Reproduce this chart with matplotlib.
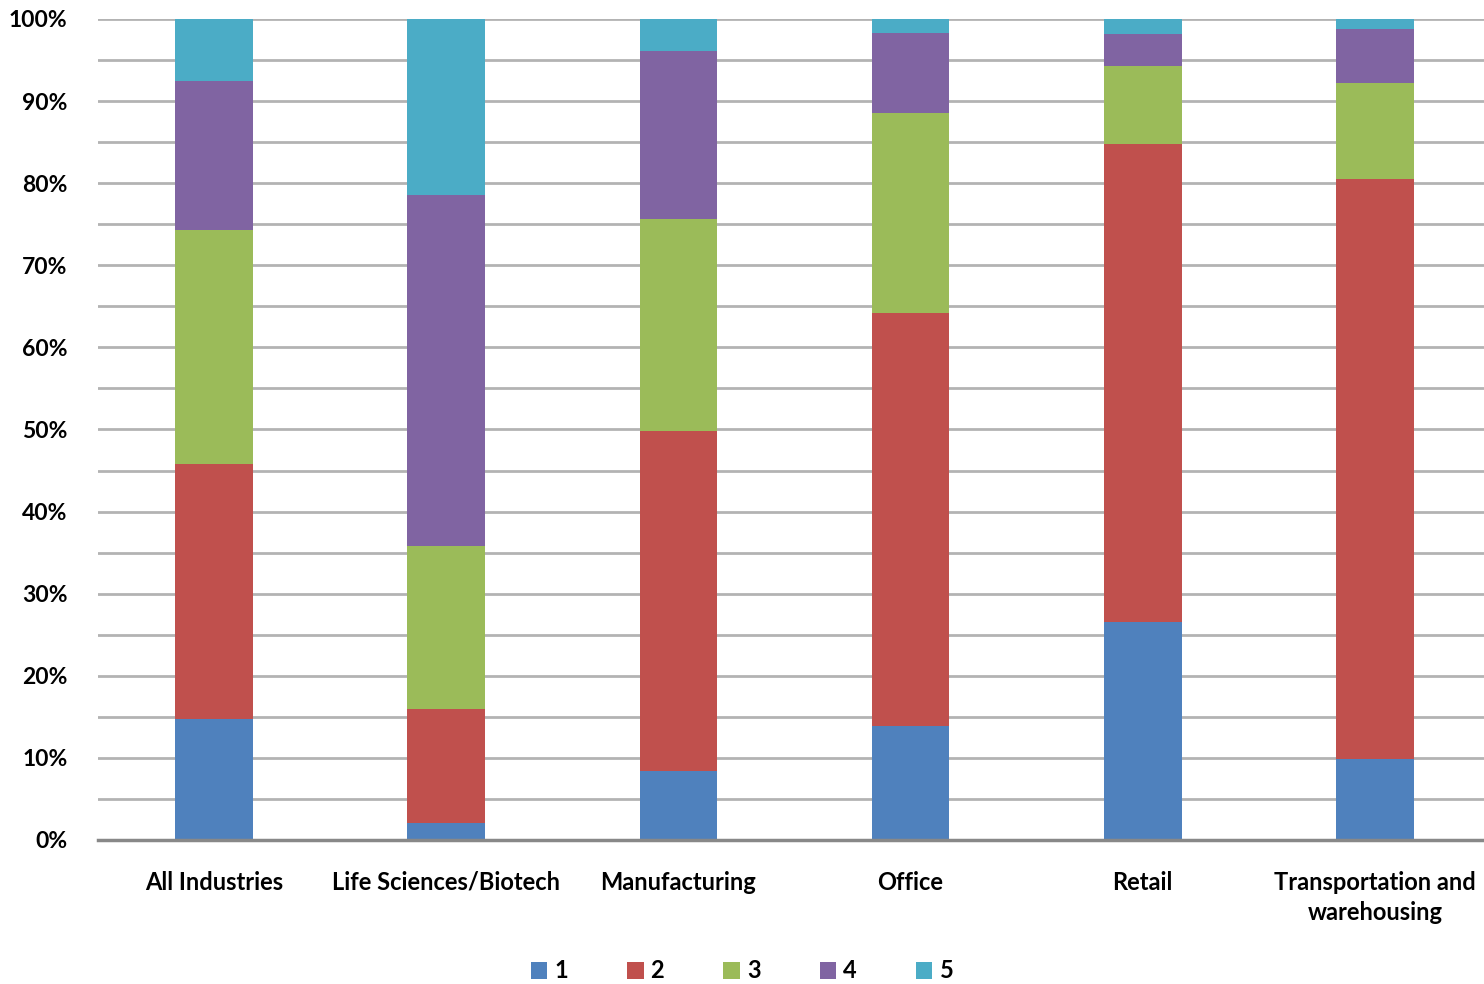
import matplotlib
matplotlib.use("Agg")
import matplotlib.pyplot as plt
import numpy as np

plt.rcParams['font.family'] = ['Lato', 'DejaVu Sans']
plt.rcParams['font.weight'] = 'bold'

categories = ["All Industries", "Life Sciences/Biotech", "Manufacturing",
              "Office", "Retail", "Transportation and\nwarehousing"]
series_names = ["1", "2", "3", "4", "5"]
s1 = [14.7, 2.1, 8.4, 13.9, 26.6, 9.9]
s2 = [31.1, 13.9, 41.4, 50.3, 58.2, 70.6]
s3 = [28.5, 19.8, 25.8, 24.4, 9.5, 11.7]
s4 = [18.1, 42.8, 20.5, 9.7, 3.9, 6.6]
s5 = [7.6, 21.4, 3.9, 1.7, 1.8, 1.2]
colors = ["#4F81BD", "#C0504D", "#9BBB59", "#8064A2", "#4BACC6"]

data = np.array([s1, s2, s3, s4, s5], dtype=float)
data = data / data.sum(axis=0) * 100

fig = plt.figure(figsize=(14.84, 9.84), dpi=100)
ax = fig.add_axes([98 / 1484, 144 / 984, (1491 - 98) / 1484, (840 - 19) / 984])

x = np.arange(len(categories))
bottom = np.zeros(len(categories))
handles = []
for vals, name, c in zip(data, series_names, colors):
    b = ax.bar(x, vals, bottom=bottom, width=0.335, color=c, label=name,
               zorder=3, linewidth=0)
    handles.append(b)
    bottom += vals

ax.set_xlim(-0.5, len(categories) - 0.5)
ax.set_ylim(0, 100)
ax.set_yticks(np.arange(0, 101, 10))
ax.set_yticklabels([f"{v}%" for v in range(0, 101, 10)])
ax.set_yticks(np.arange(5, 100, 10), minor=True)
ax.yaxis.grid(True, which='both', color='#b3b3b3', linewidth=2, zorder=0)
ax.tick_params(axis='y', which='both', length=0, pad=22, labelsize=16.5)
ax.set_xticks(x)
ax.set_xticklabels(categories, fontsize=17, linespacing=1.4)
ax.tick_params(axis='x', length=0, pad=22)
for side in ['left', 'right', 'top']:
    ax.spines[side].set_visible(False)
ax.spines['bottom'].set_color('#888888')
ax.spines['bottom'].set_linewidth(2.5)
ax.spines['bottom'].set_zorder(4)

fig.legend(handles=handles, labels=series_names, loc='center',
           bbox_to_anchor=(742 / 1484, 1 - 971 / 984), ncol=5, frameon=False,
           fontsize=17, handlelength=0.7, handleheight=0.7,
           handletextpad=0.3, columnspacing=2.5)

fig.savefig("out.png", dpi=100, facecolor='white')
